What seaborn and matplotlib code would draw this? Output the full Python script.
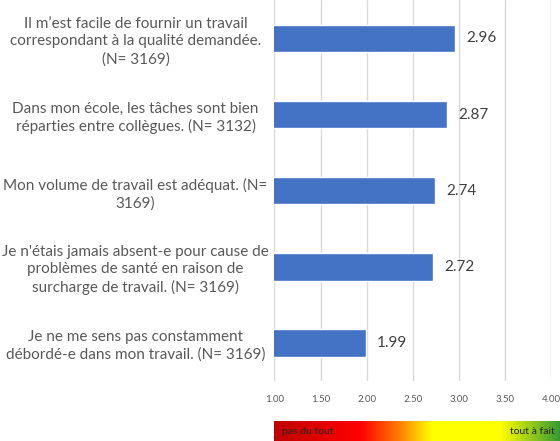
import pandas as pd
import numpy as np
import matplotlib.pyplot as plt
import seaborn as sns
from matplotlib.colors import LinearSegmentedColormap

# données
questions = [
    "Il m\u2019est facile de fournir un travail\ncorrespondant à la qualité demandée.\n(N= 3169)",
    "Dans mon école, les tâches sont bien\nréparties entre collègues. (N= 3132)",
    "Mon volume de travail est adéquat. (N=\n3169)",
    "Je n'étais jamais absent-e pour cause de\nproblèmes de santé en raison de\nsurcharge de travail. (N= 3169)",
    "Je ne me sens pas constamment\ndébordé-e dans mon travail. (N= 3169)",
]
moyennes = [2.96, 2.87, 2.74, 2.72, 1.99]
graduations = [1.00, 1.50, 2.00, 2.50, 3.00, 3.50, 4.00]
echelle_min = "pas du tout"
echelle_max = "tout à fait"

df = pd.DataFrame({"question": questions, "moyenne": moyennes})

sns.set_theme(style="white")
plt.rcParams['font.family'] = ['Lato', 'DejaVu Sans']

fig = plt.figure(figsize=(5.6, 4.41), dpi=100)
ax = fig.add_axes([0.490, 0.136, 0.4945, 0.863])

sns.barplot(data=df, y="question", x="moyenne", orient="h",
            color="#4472C4", saturation=1, width=0.36, ax=ax)

ax.set_xlim(1, 4)
ax.set_xticks(graduations)
ax.set_xticklabels([f"{v:.2f}" for v in graduations], fontsize=7, color="#595959")
ax.xaxis.grid(True, color="#D9D9D9", linewidth=1)
ax.set_axisbelow(True)
ax.set_xlabel("")
ax.set_ylabel("")
for s in ["top", "right", "bottom", "left"]:
    ax.spines[s].set_visible(False)
ax.tick_params(axis="x", length=0, pad=10)

# étiquettes des questions centrées dans la marge gauche
ax.tick_params(axis="y", length=0, pad=100)
for lab in ax.get_yticklabels():
    lab.set_ha("center")
    lab.set_multialignment("center")
    lab.set_fontsize(11)
    lab.set_color("#595959")
    lab.set_linespacing(1.3)

ax.bar_label(ax.containers[0], fmt="%.2f", padding=8, fontsize=11, color="#404040")

# barre de couleur de l'échelle
cmap = LinearSegmentedColormap.from_list("echelle", [
    (0.0, "#C00000"), (0.30, "#FF0000"), (0.44, "#FF8000"),
    (0.55, "#FFFF00"), (0.79, "#FFFF00"), (1.0, "#339933")])
cax = fig.add_axes([0.489, 0.0, 0.511, 0.045])
cax.imshow(np.linspace(0, 1, 256)[None, :], aspect="auto", cmap=cmap,
           extent=[0, 1, 0, 1])
cax.set_axis_off()
cax.text(0.03, 0.5, echelle_min, fontsize=7.5, va="center", ha="left", color="#262626")
cax.text(0.98, 0.5, echelle_max, fontsize=7.5, va="center", ha="right", color="#262626")

fig.savefig("out.png", dpi=100)
